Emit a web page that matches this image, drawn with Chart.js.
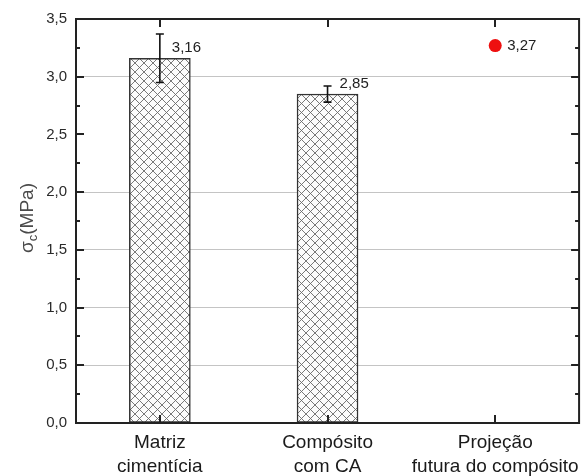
<!DOCTYPE html>
<html>
<head>
<meta charset="utf-8">
<script src="https://cdn.jsdelivr.net/npm/chart.js@4/dist/chart.umd.min.js"></script>
<style>
  html, body { margin: 0; padding: 0; background: #fff; }
  #wrap { width: 588px; height: 476px; }
</style>
</head>
<body>
<div id="wrap"><canvas id="c" width="588" height="476"></canvas></div>
<script>
// ---- data ----
const categories = [['Matriz', 'cimentícia'], ['Compósito', 'com CA'], ['Projeção', 'futura do compósito']];
const barValues = [3.16, 2.85, null];
const barErrors = [0.21, 0.07, null];
const projectionValues = [null, null, 3.27];
const valueLabels = ['3,16', '2,85', '3,27'];
const yMin = 0, yMax = 3.5, yStep = 0.25, yLabelStep = 0.5;
const yGridValues = [0.5, 1.0, 1.5, 2.0, 3.0];
const yTitleMain = 'σ', yTitleSub = 'c', yTitleRest = '(MPa)';

const FONT = '"Liberation Sans", Arial, sans-serif';

function hatchPattern() {
  const s = 9;
  const c = document.createElement('canvas');
  c.width = s; c.height = s;
  const g = c.getContext('2d');
  g.fillStyle = '#fcfcfc';
  g.fillRect(0, 0, s, s);
  g.strokeStyle = '#6a6a6a';
  g.lineWidth = 0.9;
  g.beginPath();
  g.moveTo(-1, -1); g.lineTo(s + 1, s + 1);
  g.moveTo(-1, s + 1); g.lineTo(s + 1, -1);
  g.stroke();
  return g.createPattern(c, 'repeat');
}

const isMajor = v => Math.abs(v / yLabelStep - Math.round(v / yLabelStep)) < 1e-6;

const decorPlugin = {
  id: 'decor',
  afterDatasetsDraw(chart) {
    const { ctx, scales: { x, y } } = chart;
    // error bars
    ctx.save();
    ctx.strokeStyle = '#111';
    ctx.lineWidth = 1.6;
    barValues.forEach((v, i) => {
      if (v == null || barErrors[i] == null) return;
      const px = x.getPixelForValue(i);
      const pTop = y.getPixelForValue(v + barErrors[i]);
      const pBot = y.getPixelForValue(v - barErrors[i]);
      ctx.beginPath();
      ctx.moveTo(px, pTop); ctx.lineTo(px, pBot);
      ctx.moveTo(px - 4, pTop); ctx.lineTo(px + 4, pTop);
      ctx.moveTo(px - 4, pBot); ctx.lineTo(px + 4, pBot);
      ctx.stroke();
    });
    ctx.restore();
    // value labels
    ctx.save();
    ctx.fillStyle = '#222';
    ctx.font = '15px ' + FONT;
    ctx.textAlign = 'left';
    ctx.textBaseline = 'middle';
    categories.forEach((c, i) => {
      const px = x.getPixelForValue(i);
      if (barValues[i] != null) {
        ctx.fillText(valueLabels[i], px + 12, y.getPixelForValue(barValues[i]) - 10);
      } else if (projectionValues[i] != null) {
        ctx.fillText(valueLabels[i], px + 12, y.getPixelForValue(projectionValues[i]));
      }
    });
    ctx.restore();
  },
  afterDraw(chart) {
    const { ctx, chartArea: { left, right, top, bottom }, scales: { x, y } } = chart;
    ctx.save();
    ctx.strokeStyle = '#222';
    ctx.lineWidth = 2;
    ctx.strokeRect(left, top, right - left, bottom - top);
    ctx.beginPath();
    y.ticks.forEach(t => {
      const py = Math.round(y.getPixelForValue(t.value));
      if (t.value <= yMin || t.value >= yMax) return;
      const len = isMajor(t.value) ? 8 : 4;
      ctx.moveTo(left, py); ctx.lineTo(left + len, py);
      ctx.moveTo(right, py); ctx.lineTo(right - len, py);
    });
    categories.forEach((c, i) => {
      const px = Math.round(x.getPixelForValue(i));
      ctx.moveTo(px, bottom); ctx.lineTo(px, bottom - 8);
      ctx.moveTo(px, top); ctx.lineTo(px, top + 8);
    });
    ctx.stroke();
    ctx.restore();
    // y-axis title with subscript
    ctx.save();
    const cx = 28, cy = 218;
    ctx.translate(cx, cy);
    ctx.rotate(-Math.PI / 2);
    ctx.fillStyle = '#4a4a4a';
    ctx.textBaseline = 'middle';
    ctx.textAlign = 'left';
    const fMain = '19px ' + FONT, fSub = '13px ' + FONT;
    ctx.font = fMain; const w1 = ctx.measureText(yTitleMain).width;
    ctx.font = fSub; const w2 = ctx.measureText(yTitleSub).width;
    ctx.font = fMain; const w3 = ctx.measureText(yTitleRest).width;
    let sx = -(w1 + w2 + w3) / 2;
    ctx.font = fMain; ctx.fillText(yTitleMain, sx, 0); sx += w1;
    ctx.font = fSub; ctx.fillText(yTitleSub, sx, 5); sx += w2;
    ctx.font = fMain; ctx.fillText(yTitleRest, sx, 0);
    ctx.restore();
  }
};

new Chart(document.getElementById('c'), {
  data: {
    labels: categories,
    datasets: [
      {
        type: 'bar',
        data: barValues,
        backgroundColor: hatchPattern(),
        borderColor: '#333',
        borderWidth: 1.5,
        borderSkipped: false,
        barThickness: 61,
        order: 2
      },
      {
        type: 'line',
        data: projectionValues,
        showLine: false,
        pointRadius: 6.5,
        pointBackgroundColor: '#ee1010',
        pointBorderColor: '#ee1010',
        pointBorderWidth: 0,
        order: 1
      }
    ]
  },
  options: {
    responsive: false,
    animation: false,
    devicePixelRatio: 1,
    layout: { padding: { top: 19, right: 8, left: 0, bottom: 0 } },
    plugins: { legend: { display: false }, tooltip: { enabled: false } },
    scales: {
      x: {
        type: 'category',
        offset: true,
        grid: { display: false, drawTicks: false },
        border: { display: false },
        ticks: {
          padding: 8,
          color: '#1a1a1a',
          maxRotation: 0,
          autoSkip: false,
          font: { family: FONT, size: 19, lineHeight: 1.26 }
        },
        afterFit: s => { s.height = 53; }
      },
      y: {
        min: yMin, max: yMax,
        grid: {
          drawTicks: false,
          lineWidth: 1,
          color: ctx => (ctx.tick && yGridValues.some(g => Math.abs(g - ctx.tick.value) < 1e-6)) ? '#c4c4c4' : 'rgba(0,0,0,0)'
        },
        border: { display: false },
        ticks: {
          stepSize: yStep,
          padding: 9,
          color: '#2a2a2a',
          font: { family: FONT, size: 15 },
          callback: v => isMajor(v) ? v.toFixed(1).replace('.', ',') : ''
        },
        afterFit: s => { s.width = 76; }
      }
    }
  },
  plugins: [decorPlugin]
});
</script>
</body>
</html>
